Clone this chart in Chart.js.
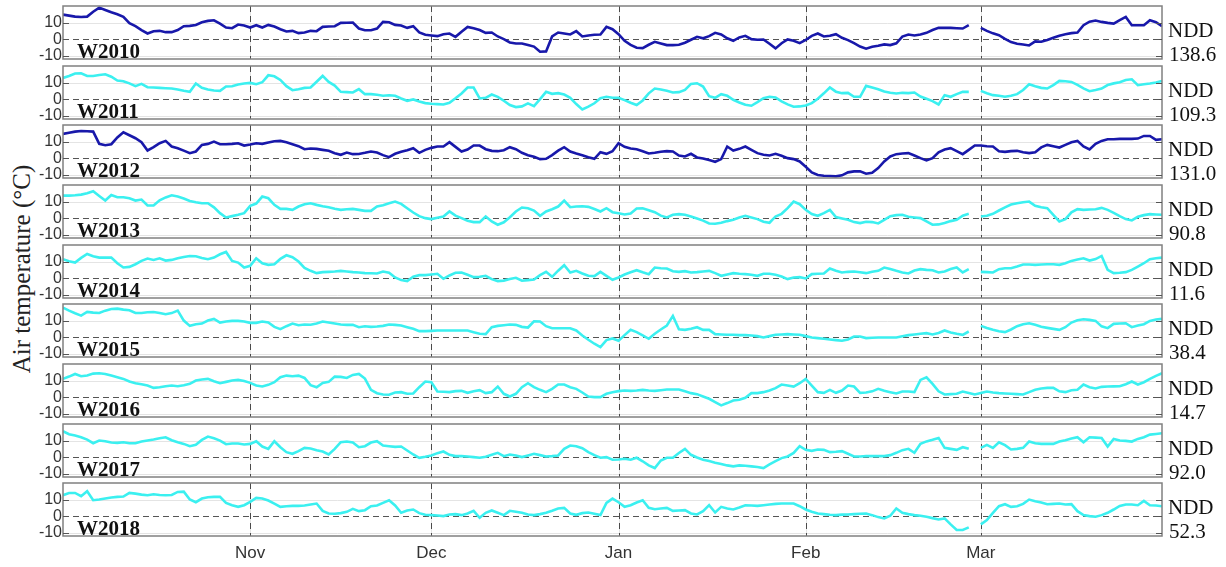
<!DOCTYPE html>
<html>
<head>
<meta charset="utf-8">
<title>Winter air temperature</title>
<script src="https://cdn.jsdelivr.net/npm/chart.js@4.4.1/dist/chart.umd.min.js"></script>
<style>
  html, body { margin: 0; padding: 0; background: #ffffff; }
  #wrap { position: relative; width: 1226px; height: 567px; overflow: hidden; background: #ffffff; }
  #wrap canvas { position: absolute; left: 0; }
  #ytitle {
    position: absolute; left: 22px; top: 269px;
    transform: translate(-50%, -50%) rotate(-90deg);
    white-space: nowrap; font: 25px "Liberation Serif", "Times New Roman", serif; color: #222;
  }
</style>
</head>
<body>
<div id="wrap"><div id="ytitle">Air temperature (°C)</div></div>
<script>
// ---- data: daily mean air temperature (°C), day 0 = 1 Oct, day 151 = 29 Feb ----
const seasons = ['W2010', 'W2011', 'W2012', 'W2013', 'W2014', 'W2015', 'W2016', 'W2017', 'W2018'];
const nddValues = [138.6, 109.3, 131.0, 90.8, 11.6, 38.4, 14.7, 92.0, 52.3];
const monthTicks = ['Nov', 'Dec', 'Jan', 'Feb', 'Mar'];
const monthStartDay = [31, 61, 92, 123, 152];
const yTickValues = [-10, 0, 10];

const t2010 = [
  14.8, 14.2, 13.6, 13.4, 13.6, 16.5, 19, 17.6, 16.2, 15,
  13.4, 9.6, 7.8, 5.5, 3.4, 4.8, 5, 4.2, 4.2, 5.5,
  7.8, 8, 8.5, 10.2, 11, 11.4, 9.4, 7, 6.6, 8.8,
  8.2, 7, 8.4, 7, 8.6, 7.6, 6, 4.6, 5, 3.6,
  4, 5, 4.8, 7.4, 7.6, 7.8, 9.8, 9.9, 10, 6.4,
  5.4, 5.4, 6.4, 10.4, 10.2, 8.6, 8.2, 6.8, 7.8, 4,
  2.6, 2.2, 1.8, 3, 3.4, 1.4, 4.5, 7.4, 6.5, 5.5,
  3.8, 4, 1.6, 0, -2, -2.6, -2.6, -3.5, -4.5, -7.6,
  -7.4, 1.6, 4, 3.4, 2.8, 4.8, 1.6, 2.2, 2.6, 2.8,
  7.4, 6, 3, -1, -3.5, -5.2, -5.4, -3.4, -1.6, -2.6,
  -3.6, -3.6, -3.4, -2.2, -0.4, 1.4, 0.5, 1.8, 3.8, 2.8,
  0.5, -1, 1, 2, 0, -0.4, -0.2, -2.8, -5.6, -2.5,
  -0.2, -1, -2.4, -0.5, 2, 3.4, 1.6, 2, 3, 0.8,
  -0.6, -2.4, -4.5, -5.8, -4.6, -4, -3.2, -3.6, -2.5, 1.5,
  2.8, 2.2, 2.8, 3.8, 5.5, 6.8, 6.8, 6.8, 6.6, 6.4,
  8.4, null, 6.8, 5, 3.5, 2.4, 0.2, -1.8, -2.8, -3.2,
  -3.8, -1.4, -1.6, -0.5, 0.8, 2, 3, 3.6, 4, 8.4,
  10.5, 11.2, 10.4, 9.8, 9.4, 11.5, 13.4, 8.4, 8.4, 8.4,
  11.4, 10.2, 7.8
];

const t2011 = [
  12.8, 14, 15.5, 15.6, 14, 14, 14.6, 15, 13.5, 11.2,
  10.8, 9.5, 7.8, 9.2, 7.2, 7, 6.8, 6.6, 6.4, 5.8,
  5, 4.4, 9.4, 6.8, 5.8, 5.2, 5, 7.6, 7.8, 8.8,
  9.4, 9.8, 9, 10.2, 14.4, 13.8, 11.6, 7.8, 5.4, 6,
  6.8, 7, 10.5, 14, 10.4, 8.2, 4.4, 4.2, 4, 6,
  3, 3, 2.6, 2, 2.3, 2, 0.4, -1, -0.2, -1.4,
  -2.4, -2.8, -3, -3.2, -2.2, 0.5, 3.4, 7, 7, 0.4,
  0.8, 2.8, 1.4, -1, -3.6, -4.8, -4.4, -2.6, -4.2, 0,
  4.4, 3.2, 3.6, 2.8, 0.8, -3, -6.2, -4.5, -2.5, 0.5,
  1.4, 0.8, 0.8, -0.6, -2.2, -3.6, -0.8, 3.5, 6.4, 5.8,
  5, 4, 4.2, 5.6, 9.2, 9.6, 7.6, 1.8, 0.8, 3,
  2, -0.4, -2, -3.4, -4, -1.8, 0.6, 1.4, 1, -1.4,
  -3.2, -4.6, -4.4, -3.8, -2.4, 0.2, 3.5, 7, 4.5, 3.6,
  3.8, 1.4, 1.4, 8, 7, 6, 4.6, 3.8, 3.4, 3.8,
  3.6, 4, 1.6, 0.2, -1.2, -3.2, 2.4, 1.4, 3, 4.4,
  4.4, null, 5, 3.6, 2.4, 2, 1.4, 2, 3, 5.5,
  9, 7.8, 6.8, 6.4, 8.5, 11, 10.8, 10.4, 8.6, 6.5,
  4.8, 5.5, 6.4, 8.5, 9.5, 10.2, 11.5, 12, 8.4, 9,
  9.4, 10, 11
];

const t2012 = [
  14.6, 15.3, 16, 16.4, 16.2, 16, 8.6, 7.8, 8.4, 12.5,
  15.6, 13.8, 12, 9.6, 4.6, 6.6, 9, 10.4, 7, 6,
  4.5, 3, 4, 8, 8.6, 10, 8.4, 8.4, 8.6, 9,
  7.6, 8.2, 9, 8.6, 9.4, 10.2, 10.4, 9.6, 8.4, 7.2,
  5.4, 5.8, 5.6, 5, 4.4, 3, 2, 3.4, 2.4, 2.5,
  3.2, 4, 3.4, 1.8, 0.6, 2.6, 3.8, 4.8, 6, 3.2,
  5, 6.2, 7, 7, 9.6, 6.8, 4, 5.2, 7.6, 7.6,
  5.4, 4.4, 4.2, 4.8, 6.6, 5.4, 3.2, 1.8, 0.8, -0.6,
  -0.4, 1.8, 4.5, 6.6, 4, 2.8, 1.8, 0.6, -0.4, 3.6,
  2.6, 4.2, 9, 6.8, 5.8, 5.4, 4.2, 2.8, 3.2, 3.8,
  4.2, 4, 1.6, 1, 2.6, 0.4, -0.2, -1.2, -2.2, -0.6,
  7, 4.6, 5.6, 7, 5, 3, 2, 1.6, 2.6, 1.4,
  0, -0.6, -2, -5.2, -8.6, -10.2, -10.6, -10.8, -11, -10.4,
  -8.6, -8, -8, -9.4, -8.8, -6, -2, 1, 2.4, 2.8,
  3, 1.6, 0, -1.4, 0, 3.5, 5.2, 6, 4.2, 2.4,
  5, 7.6, 7.6, 7.2, 7, 4.2, 3.8, 4.2, 4.4, 3.6,
  3, 3.6, 6.5, 8, 7.2, 6.4, 8, 9.6, 10.4, 7,
  5.2, 8.6, 10.4, 11.4, 11.4, 11.6, 11.6, 11.6, 11.8, 13.4,
  13.4, 11, 11.4
];

const t2013 = [
  13.6, 13.6, 13.8, 14.2, 15, 16.2, 13.4, 10.6, 14, 12.6,
  12.6, 12, 10.6, 11.2, 7.6, 7.6, 10.8, 12.5, 13.8, 13,
  11.8, 10.4, 9.6, 9, 9, 6.5, 3, 0.4, 1.2, 2,
  3, 7.4, 8.8, 13, 12, 8, 5.6, 5.6, 5, 7,
  8.4, 9, 8, 7.2, 6.6, 5.6, 5, 5.4, 5.6, 5,
  4.4, 4.4, 7, 7.8, 9, 10, 8.6, 6, 3.4, 1.2,
  0, -0.6, 0.2, 1, 4, 1.5, 0, -1.6, -2.4, -2.4,
  1, -2, -4, -2.5, 0.5, 4, 6.4, 6, 4.6, 1.4,
  4, 5.4, 7, 10.6, 6.6, 7, 7.2, 6.8, 5.5, 4,
  6, 3.6, 3, 2.2, 2.8, 5.8, 6, 4.8, 3.6, 1.5,
  0.4, 2, 2.4, 2, 1, -0.2, -1.5, -3.2, -3.4, -2.8,
  -1.8, -1, 0.4, 1.4, 0.4, -0.6, -2.2, -2.8, 1, 2.6,
  6, 10, 8.4, 5, 2.5, 1.4, 3, 5, 0.6, -0.2,
  -1, -2.4, -3, -2.2, -2.4, -3.2, -1, 1.2, 1.8, 2,
  0.8, 0.4, 0, -2, -4, -3.8, -3, -1.8, -1, 1.5,
  2.6, null, 1, 1.4, 2.6, 4.6, 6.5, 8.2, 9, 9.6,
  10, 7.5, 6.6, 6, 2, -2, -0.6, 3.5, 5.4, 5,
  5.2, 5.4, 6.2, 5, 3.2, 1.2, -0.6, -1.4, 0.8, 1.8,
  2.4, 2.2, 2
];

const t2014 = [
  11.4, 10.2, 9.4, 12.2, 14.6, 13.2, 12.4, 12.4, 12.4, 9,
  6.4, 6.8, 8.4, 10.4, 11.8, 11, 12, 10.6, 11, 12,
  12.8, 13.4, 13.2, 12.2, 11.4, 12.4, 14.4, 15.8, 10.4, 9.4,
  6.4, 7.4, 12, 9, 8, 8.4, 11.6, 13.8, 12.6, 10,
  6.2, 4.4, 3, 3.6, 3.8, 4, 4.4, 4, 3.6, 3.4,
  3, 2.9, 2.8, 4, 3.2, 0.4, -1.2, -1.8, 0.8, 1.8,
  1.8, 2.2, 2.6, -0.4, 1.6, 3.2, 3.4, 2, 0.6, 0.8,
  1.4, -0.6, -1.8, -1.5, -0.5, 0.2, -1.6, -1.2, -0.8, 1.8,
  3.8, 0.8, 4.5, 7.8, 3.4, 4.4, 2.8, 1.4, 1.2, 3.8,
  1.4, -1, 0.4, 2.2, 3.6, 4.8, 3.5, 2.4, 6.4, 6,
  5.8, 4.2, 3.8, 4.2, 3.4, 3.6, 4, 4.4, 3, 1.4,
  2.2, 3, 2.6, 2.4, 2, 1.4, 2.6, 2.6, 2, 1,
  -0.6, 0.4, 0.6, -0.2, 2.4, 2.6, 2.8, 5.8, 4.4, 3.4,
  3.8, 4, 3.5, 3, 3.8, 4.4, 6.4, 5.5, 4.4, 3.4,
  2.8, 4.6, 5.4, 5, 4.8, 3.4, 4, 5.5, 6.4, 3.4,
  5.4, null, 3.8, 3.6, 3.4, 5.4, 6, 6, 7, 8.2,
  8.2, 8, 8.2, 8.4, 8.4, 8, 9, 10.4, 11.2, 12,
  10.6, 11.5, 13.4, 5, 3, 3.2, 3.6, 5, 7, 9,
  11.4, 12, 12.4
];

const t2015 = [
  17.8, 16, 14.4, 13, 15.2, 14.8, 14.6, 16, 17, 17.2,
  16.6, 16.2, 14.6, 14.6, 15, 15.2, 14.6, 13.8, 14.5, 16,
  10, 6.8, 7.8, 8.2, 10, 11, 8.8, 9.4, 9.8, 9.8,
  9.4, 8.6, 8.6, 9.4, 8.8, 6.2, 4.8, 6.6, 8.2, 7.2,
  7.6, 7.5, 8.2, 9.4, 8.8, 8.2, 7.6, 7.4, 7.4, 6,
  6.6, 6.2, 6.4, 6.8, 7.6, 7.4, 7, 6, 5, 3.6,
  3.6, 3.8, 4, 4, 4, 4, 4, 4, 3, 2,
  1.8, 6, 6.8, 7.2, 7.6, 7.4, 6.2, 5.8, 9.6, 9.4,
  6.6, 5.4, 5.4, 5.4, 5.4, 4, 1, -1.6, -4, -6,
  -1.8, -0.8, -2.2, 1.2, 4.4, 3, 1, -1, 2, 4.6,
  7, 12.8, 4.8, 4.4, 5, 6, 4.4, 4.4, 1.8, 1.6,
  1.4, 1.4, 1.2, 1.2, 1, 0.6, -0.2, 0.6, 1.4, 1.6,
  1.8, 1.6, 1.4, 0.6, -0.2, -0.6, -1, -1.4, -1.8, -2.2,
  -1.4, 0.4, 0.4, -0.6, -0.4, -0.2, -0.2, -0.2, -0.2, 0.5,
  1.2, 1.6, 2, 2.4, 1.6, 2.5, 4, 2.8, 2, 1.4,
  3.4, null, 6.8, 5.5, 4.4, 3.6, 3, 4.6, 6.6, 7.8,
  8.4, 7.4, 6.2, 5.6, 5, 4.4, 6, 8.8, 10.2, 10.8,
  10.4, 9.8, 6.5, 5.4, 8, 8.2, 8.4, 6, 7, 7.8,
  9.8, 10.6, 11
];

const t2016 = [
  11, 12.4, 14, 12.6, 13, 14.2, 14.4, 14, 13, 12,
  11, 9.4, 8.4, 7.8, 7, 5.6, 6, 6.6, 7, 6.6,
  7.2, 8, 10, 10.6, 11, 9.6, 8.4, 9.2, 10, 10.4,
  9.8, 8.6, 7, 6.4, 7.4, 9, 12, 13, 12.6, 13,
  11.6, 7.2, 6, 8.6, 9.2, 12.4, 12.2, 11.6, 13.4, 14,
  11.2, 4.4, 2.4, 1.6, 1.4, 2.8, 3, 2, 2.2, 6,
  9.4, 9, 3.4, 3.2, 3, 3.6, 3.8, 2.6, 3.6, 4.2,
  2.4, 3, 6.4, 2, 0.4, 2, 6, 8.4, 6, 4.4,
  3, 5, 7.6, 7.6, 6, 5, 2.8, 0.4, 0, 0,
  2, 3, 3.6, 4, 3.8, 4, 4.4, 4, 3.8, 4.2,
  4.6, 4.6, 4.6, 3.6, 2.4, 1.8, 0.4, -1, -3, -5,
  -3.6, -2, -1.6, -0.4, 2.4, 2.4, 3, 4, 5.4, 7.6,
  7, 6.4, 8.4, 11, 7, 3, 2.6, 4.4, 2.6, 4,
  7, 6.4, 2.6, 2.8, 3.5, 5, 3.8, 3, 2.2, 3.4,
  3.4, 3, 10.4, 12, 8, 3.5, 1.6, 1.8, 2, 3.4,
  2.5, 1.6, 2.5, 3.4, 2.8, 2.4, 2.2, 2, 1.8, 1.6,
  3, 4.4, 5.2, 5.6, 5.6, 3.5, 3, 4.2, 4.4, 7.6,
  6, 5.2, 6.2, 6.4, 6.5, 6.6, 7.8, 9.4, 7.6, 9,
  11, 12.8, 14.4
];

const t2017 = [
  15.6, 13.8, 13, 12, 10.6, 8.4, 10, 9.6, 8.8, 8.6,
  9, 8.4, 8.4, 9.4, 10, 10.6, 11.4, 12, 10.2, 9,
  8, 6.6, 7.4, 10.4, 12.4, 11.4, 10, 7.8, 8.2, 8.2,
  7.6, 8, 9.6, 6.4, 5, 9.6, 6, 3, 2, 3.6,
  5.6, 5.2, 4.2, 3.4, 1.6, 5, 9, 9.4, 8.8, 6,
  6.6, 8.8, 9.6, 7, 6.6, 6.2, 6.4, 4, 1.6, -0.4,
  0.2, 1, 2.4, 3.4, 1.4, 0.6, 0.6, 0.4, 0, -0.4,
  0.2, 1.4, 2.6, 0.6, 1.6, 1, 0, 1, 2, 1.2,
  0.4, 0.6, 1, 5, 7, 6.6, 5.4, 3, 1.2, -0.4,
  0, -1.6, -1.4, -1, -1.6, -0.4, -2.5, -5, -6.6, -2,
  -0.4, -0.4, 2.5, 5, 1.4, -0.2, -1.6, -2.4, -3.4, -4.2,
  -5, -5.6, -5, -5.2, -5.6, -6, -6.6, -4.4, -2.4, -0.6,
  0.4, 2.5, 6.6, 4.4, 3.8, 4.6, 4.4, 3, 3.2, 3.6,
  2, 0.4, 0.4, 0.6, 0.6, 0.6, 0.6, 1.2, 2.6, 4.2,
  5, 2.6, 8, 9.5, 10.5, 11.6, 5.6, 5, 4.4, 6,
  5, null, 5.6, 7.4, 5.6, 9, 7.2, 4.6, 5, 5.6,
  9.4, 8.4, 8, 8, 8, 9.4, 10.2, 11.2, 12, 9,
  12, 11.8, 11.6, 6.4, 11, 10, 9.8, 9.4, 11, 12,
  13.6, 14, 14.4
];

const t2018 = [
  12.6, 14, 14, 12, 15, 9.6, 10, 10.6, 11.2, 11.6,
  11.8, 14, 13.6, 13, 12.6, 13.2, 12.8, 12.6, 12.8, 14.6,
  14.8, 10, 8.4, 10.6, 11.4, 11.6, 11.6, 8, 6.6, 5.6,
  6.6, 8.6, 11, 10.6, 9.4, 7.6, 5.6, 6, 6.2, 6.2,
  6.4, 7, 7.6, 3.2, 1.6, 1.4, 1.8, 2.6, 4.4, 3,
  3.6, 6, 6.4, 8, 9.6, 6.4, 2, 3.4, 4, 1.8,
  0.8, 0.6, 0.4, 0, 1, 1.2, 0.6, 1.6, 3.2, -1,
  2, 3.4, 2, 0.6, 3.2, 2.6, 2, 1, 0.6, 1.2,
  2, 3.2, 4.6, 5, 1.6, 0.8, 1.8, 2.2, 1.4, 0.6,
  8, 10.6, 8.4, 5.6, 6.6, 8.2, 9.6, 5, 4.2, 4.6,
  5, 3.2, 3.4, 3.6, 1.6, 1, 3, 6.6, 2.2, 5.6,
  4.6, 4, 5.2, 6.6, 6.4, 6.2, 6.6, 7, 7.4, 7.6,
  7.6, 7.6, 6, 4, 2.6, 1.6, 1.2, 0.8, 0.6, 0.9,
  1, 1.2, 1.4, 1.6, 0.6, -0.6, -1.4, 0.2, 4.6, 2,
  1.2, 0.6, 0.2, -0.4, -1.2, -2, -1.4, -5, -8.4, -8.4,
  -6.8, null, -5, -2.4, 2, 6, 7.2, 5.6, 6, 7.4,
  10, 9, 8.2, 7.2, 7.4, 7.6, 7, 7.2, 3, 0.6,
  0, -0.4, 0.6, 2, 4, 6.2, 7, 7, 6.6, 9.2,
  6.6, 6.4, 6
];

const seasonSeries = [t2010, t2011, t2012, t2013, t2014, t2015, t2016, t2017, t2018];

// ---- styles and layout ----
const DARK_BLUE = '#1818aa';
const CYAN = '#3bf0f0';
const seriesColors = [DARK_BLUE, CYAN, DARK_BLUE, CYAN, CYAN, CYAN, CYAN, CYAN, CYAN];

const W = 1226, H = 567;
const PLOT_LEFT = 63, PLOT_RIGHT = 1162;
const PANEL_TOP = 6, PANEL_STEP = 59.66, PANEL_H = 53;
const PAD_T = 8, PAD_B = 14, X_AXIS_H = 30;
const LAST_DAY = 182;

const SANS = '"Liberation Sans", Arial, sans-serif';
const SERIF = '"Liberation Serif", "Times New Roman", serif';

Chart.defaults.font.family = SANS;

function strokeLine(ctx, x1, y1, x2, y2) {
  ctx.beginPath();
  ctx.moveTo(x1, y1);
  ctx.lineTo(x2, y2);
  ctx.stroke();
}

// reference lines, frame, inside ticks and the panel captions
const panelDecor = {
  id: 'panelDecor',
  beforeDatasetsDraw(chart) {
    const { ctx, chartArea: a, scales: { x, y } } = chart;
    ctx.save();
    ctx.lineWidth = 1;
    ctx.strokeStyle = '#e4e4e4';
    yTickValues.filter(v => v !== 0).forEach(v => {
      const py = Math.round(y.getPixelForValue(v)) + 0.5;
      strokeLine(ctx, a.left, py, a.right, py);
    });
    monthStartDay.forEach(d => {
      const px = Math.round(x.getPixelForValue(d)) + 0.5;
      strokeLine(ctx, px, a.top, px, a.bottom);
    });
    ctx.setLineDash([6, 4]);
    ctx.strokeStyle = '#4a4a4a';
    monthStartDay.forEach(d => {
      const px = Math.round(x.getPixelForValue(d)) + 0.5;
      strokeLine(ctx, px, a.top, px, a.bottom);
    });
    ctx.strokeStyle = '#555555';
    ctx.lineWidth = 1.2;
    const p0 = Math.round(y.getPixelForValue(0)) + 0.5;
    strokeLine(ctx, a.left, p0, a.right, p0);
    ctx.restore();
  },
  afterDatasetsDraw(chart, args, opts) {
    const { ctx, chartArea: a, scales: { y } } = chart;
    ctx.save();
    // frame
    ctx.strokeStyle = '#808080';
    ctx.lineWidth = 1.5;
    ctx.strokeRect(a.left, a.top, a.right - a.left, a.bottom - a.top);
    // inside tick marks on both sides
    ctx.strokeStyle = '#555555';
    ctx.lineWidth = 1;
    yTickValues.forEach(v => {
      const py = Math.round(y.getPixelForValue(v)) + 0.5;
      strokeLine(ctx, a.left, py, a.left + 6, py);
      strokeLine(ctx, a.right - 6, py, a.right, py);
    });
    // season caption
    ctx.fillStyle = '#111111';
    ctx.font = 'bold 21px ' + SERIF;
    ctx.textAlign = 'left';
    ctx.textBaseline = 'alphabetic';
    ctx.fillText(opts.season, 77, a.bottom - 1);
    // NDD label and value
    ctx.font = '21px ' + SERIF;
    ctx.textBaseline = 'middle';
    ctx.fillText('NDD', a.right + 6, a.top + 25);
    ctx.fillText(opts.ndd.toFixed(1), a.right + 7, a.top + 49);
    ctx.restore();
  }
};

const wrap = document.getElementById('wrap');

seasons.forEach((season, i) => {
  const isLast = i === seasons.length - 1;
  const top = Math.round(PANEL_TOP + PANEL_STEP * i);
  const cTop = top - PAD_T;
  const cH = isLast ? H - cTop : PAD_T + PANEL_H + PAD_B;
  const padBottom = isLast ? cH - PAD_T - PANEL_H - X_AXIS_H : PAD_B;

  const canvas = document.createElement('canvas');
  canvas.width = W;
  canvas.height = cH;
  canvas.style.width = W + 'px';
  canvas.style.height = cH + 'px';
  canvas.style.top = cTop + 'px';
  wrap.appendChild(canvas);

  new Chart(canvas, {
    type: 'line',
    data: {
      datasets: [{
        label: season,
        data: seasonSeries[i].map((v, d) => ({ x: d, y: v })),
        borderColor: seriesColors[i],
        borderWidth: 2.6,
        pointRadius: 0,
        tension: 0,
        spanGaps: false,
        fill: false
      }]
    },
    options: {
      responsive: false,
      maintainAspectRatio: false,
      animation: false,
      devicePixelRatio: 1,
      layout: { padding: { top: PAD_T, left: 0, right: W - PLOT_RIGHT, bottom: padBottom } },
      plugins: {
        legend: { display: false },
        tooltip: { enabled: false },
        panelDecor: { season: season, ndd: nddValues[i] }
      },
      scales: {
        x: {
          type: 'linear',
          min: 0,
          max: LAST_DAY,
          display: isLast,
          afterBuildTicks: s => { s.ticks = monthStartDay.map(v => ({ value: v })); },
          afterFit: s => {
            s.height = isLast ? X_AXIS_H : 0;
            s.paddingLeft = 0; s.paddingRight = 0;
          },
          ticks: {
            autoSkip: false,
            maxRotation: 0,
            padding: 7,
            color: '#333333',
            font: { size: 17, family: SANS },
            callback: v => monthTicks[monthStartDay.indexOf(v)]
          },
          grid: { display: false, drawTicks: false },
          border: { display: false }
        },
        y: {
          min: -12,
          max: 20,
          afterBuildTicks: s => { s.ticks = yTickValues.map(v => ({ value: v })); },
          afterFit: s => {
            s.width = PLOT_LEFT;
            s.paddingTop = 0; s.paddingBottom = 0;
          },
          ticks: {
            autoSkip: false,
            padding: 1,
            color: '#333333',
            font: { size: 16, family: SANS }
          },
          grid: { display: false, drawTicks: false },
          border: { display: false }
        }
      }
    },
    plugins: [panelDecor]
  });
});
</script>
</body>
</html>
